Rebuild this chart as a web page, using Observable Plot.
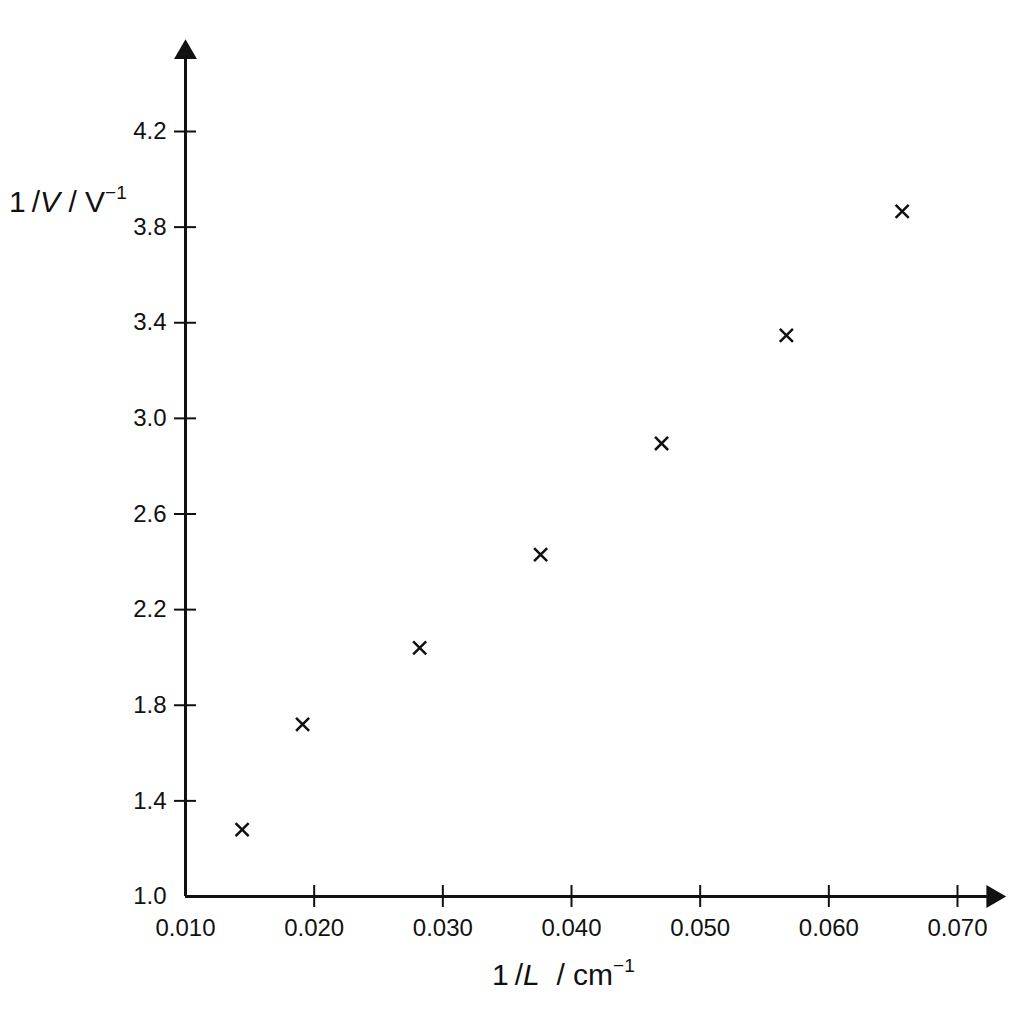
<!DOCTYPE html>
<html>
<head>
<meta charset="utf-8">
<script src="https://cdn.jsdelivr.net/npm/d3@7"></script>
<script src="https://cdn.jsdelivr.net/npm/@observablehq/plot@0.6"></script>
<style>
  html, body { margin: 0; padding: 0; background: #fff; }
  #chart { width: 1024px; height: 1024px; }
  svg text { font-family: "Liberation Sans", Arial, Helvetica, sans-serif; }
</style>
</head>
<body>
<div id="chart"></div>
<script>
// Data
const invL = [0.0144, 0.0191, 0.0282, 0.0376, 0.0470, 0.0567, 0.0657];
const invV = [1.28, 1.72, 2.04, 2.43, 2.895, 3.347, 3.866];

// Axis ticks
const xTicks = [0.010, 0.020, 0.030, 0.040, 0.050, 0.060, 0.070];
const yTicks = [1.0, 1.4, 1.8, 2.2, 2.6, 3.0, 3.4, 3.8, 4.2];
const xDomain = [0.010, 0.070];
const yDomain = [1.0, 4.2];
// arrow tips of the axes (data units)
const xAxisEnd = 0.0733;
const yAxisEnd = 4.56;

const points = invL.map((x, i) => ({x, y: invV[i]}));
const ink = "#111";

const plot = Plot.plot({
  width: 1024,
  height: 1024,
  marginLeft: 185,
  marginRight: 67,
  marginTop: 131,
  marginBottom: 128,
  style: {background: "#fff", fontSize: "24px", fontFamily: "'Liberation Sans', Arial, sans-serif", color: ink, overflow: "visible"},
  x: {domain: xDomain},
  y: {domain: yDomain},
  marks: [
    // axis lines
    Plot.ruleY([yDomain[0]], {x1: xDomain[0], x2: xAxisEnd, stroke: ink, strokeWidth: 3, clip: false}),
    Plot.ruleX([xDomain[0]], {y1: yDomain[0], y2: yAxisEnd, stroke: ink, strokeWidth: 3, clip: false}),
    // arrow heads
    Plot.dot([{x: xAxisEnd, y: yDomain[0]}], {x: "x", y: "y", symbol: "triangle", rotate: 90, r: 8.5, fill: ink, stroke: "none", dx: -7}),
    Plot.dot([{x: xDomain[0], y: yAxisEnd}], {x: "x", y: "y", symbol: "triangle", rotate: 0, r: 8.5, fill: ink, stroke: "none", dy: 7}),
    // tick marks crossing the axes
    Plot.axisX({ticks: xTicks.slice(1), tickSize: 22, dy: -11, tickFormat: () => "", label: null, stroke: ink, strokeWidth: 2}),
    Plot.axisY({ticks: yTicks.slice(1), tickSize: 22, dx: 11, tickFormat: () => "", label: null, stroke: ink, strokeWidth: 2}),
    // tick labels
    Plot.axisX({ticks: xTicks, tickSize: 0, tickPadding: 22, tickFormat: d3.format(".3f"), label: null, fill: ink}),
    Plot.axisY({ticks: yTicks, tickSize: 0, tickPadding: 19, tickFormat: d3.format(".1f"), label: null, fill: ink}),
    // data
    Plot.dot(points, {x: "x", y: "y", symbol: "times", r: 6, stroke: ink, strokeWidth: 2.5})
  ]
});

document.getElementById("chart").appendChild(plot);

// Axis titles with italic variables
const svg = d3.select(plot);
const yt = svg.append("text")
  .attr("x", 9).attr("y", 212)
  .attr("text-anchor", "start")
  .style("font-size", "30px").attr("fill", ink);
yt.append("tspan").text("1\u2009/");
yt.append("tspan").style("font-style", "italic").text("V");
yt.append("tspan").text(" / V");
yt.append("tspan").style("font-size", "19px").attr("dy", -13).text("\u22121");

const xt = svg.append("text")
  .attr("x", 492).attr("y", 985)
  .attr("text-anchor", "start")
  .style("font-size", "30px").attr("fill", ink);
xt.append("tspan").text("1\u2009/");
xt.append("tspan").style("font-style", "italic").text("L");
xt.append("tspan").text("  / cm");
xt.append("tspan").style("font-size", "19px").attr("dy", -13).text("\u22121");
</script>
</body>
</html>
